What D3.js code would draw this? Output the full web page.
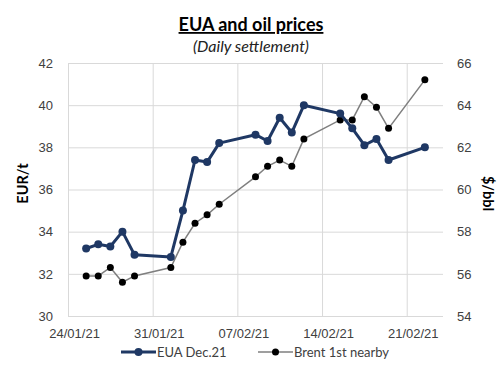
<!DOCTYPE html>
<html>
<head>
<meta charset="utf-8">
<script src="https://cdn.jsdelivr.net/npm/d3@7"></script>
<style>
  body { margin: 0; background: #fff; }
  svg { font-family: Lato, "Open Sans", sans-serif; }
  .grid line { stroke: #d9d9d9; stroke-width: 1; }
  .grid .domain { display: none; }
  .ticks .domain { display: none; }
  .ticks text { font-size: 13px; fill: #404040; }
</style>
</head>
<body>
<div id="chart"></div>
<script>
const FRAME_WIDTH = 503;
const FRAME_HEIGHT = 366;
const MARGINS = {left: 68, right: 60, top: 63, bottom: 50};

const VIS_WIDTH = FRAME_WIDTH - MARGINS.left - MARGINS.right;
const VIS_HEIGHT = FRAME_HEIGHT - MARGINS.top - MARGINS.bottom;

// data
const DATES = ["25/01/21", "26/01/21", "27/01/21", "28/01/21", "29/01/21",
               "01/02/21", "02/02/21", "03/02/21", "04/02/21", "05/02/21",
               "08/02/21", "09/02/21", "10/02/21", "11/02/21", "12/02/21",
               "15/02/21", "16/02/21", "17/02/21", "18/02/21", "19/02/21",
               "22/02/21"];
const EUA = [33.2, 33.4, 33.3, 34.0, 32.9,
             32.8, 35.0, 37.4, 37.3, 38.2,
             38.6, 38.3, 39.4, 38.7, 40.0,
             39.6, 38.9, 38.1, 38.4, 37.4,
             38.0];
const BRENT = [55.9, 55.9, 56.3, 55.6, 55.9,
               56.3, 57.5, 58.4, 58.8, 59.3,
               60.6, 61.1, 61.4, 61.1, 62.4,
               63.3, 63.3, 64.4, 63.9, 62.9,
               65.2];
const X_TICKS = ["24/01/21", "31/01/21", "07/02/21", "14/02/21", "21/02/21"];
const X_DOMAIN = ["24/01/21", "24/02/21"];
const LEFT_TICKS = [30, 32, 34, 36, 38, 40, 42];
const RIGHT_TICKS = [54, 56, 58, 60, 62, 64, 66];
const SERIES_NAMES = ["EUA Dec.21", "Brent 1st nearby"];

const parseDate = d3.utcParse("%d/%m/%y");
const fmtDate = d3.utcFormat("%d/%m/%y");

const FRAME = d3.select("#chart")
                .append("svg")
                  .attr("width", FRAME_WIDTH)
                  .attr("height", FRAME_HEIGHT);

const X_SCALE = d3.scaleUtc()
                  .domain(X_DOMAIN.map(parseDate))
                  .range([0, VIS_WIDTH]);

const Y_LEFT = d3.scaleLinear()
                 .domain([30, 42])
                 .range([VIS_HEIGHT, 0]);

const Y_RIGHT = d3.scaleLinear()
                  .domain([54, 66])
                  .range([VIS_HEIGHT, 0]);

// excel date axis puts each day in the middle of its slot
const xMid = (d) => X_SCALE(d3.utcHour.offset(d, 12));

const G = FRAME.append("g")
               .attr("transform", "translate(" + MARGINS.left + "," + MARGINS.top + ")");

// horizontal grid
G.append("g")
  .attr("class", "grid")
  .call(d3.axisLeft(Y_LEFT).tickValues(LEFT_TICKS).tickSize(-VIS_WIDTH).tickFormat(""));

// vertical grid
G.append("g")
  .attr("class", "grid")
  .attr("transform", "translate(0," + VIS_HEIGHT + ")")
  .call(d3.axisBottom(X_SCALE).tickValues(X_TICKS.map(parseDate)).tickSize(-VIS_HEIGHT).tickFormat(""));

// left axis labels
G.append("g")
  .attr("class", "ticks")
  .call(d3.axisLeft(Y_LEFT).tickValues(LEFT_TICKS).tickSize(0).tickPadding(15));

// right axis labels
G.append("g")
  .attr("class", "ticks")
  .attr("transform", "translate(" + VIS_WIDTH + ",0)")
  .call(d3.axisRight(Y_RIGHT).tickValues(RIGHT_TICKS).tickSize(0).tickPadding(14));

// x labels, shifted half a day like the points
G.append("g")
  .attr("class", "ticks")
  .attr("transform", "translate(" + (xMid(parseDate(X_TICKS[0])) - X_SCALE(parseDate(X_TICKS[0]))) + "," + VIS_HEIGHT + ")")
  .call(d3.axisBottom(X_SCALE).tickValues(X_TICKS.map(parseDate)).tickSize(0).tickPadding(13).tickFormat(fmtDate));

// axis titles
FRAME.append("text")
  .attr("transform", "translate(28," + (MARGINS.top + VIS_HEIGHT / 2 - 6) + ") rotate(-90)")
  .attr("text-anchor", "middle")
  .attr("font-size", "14.5px")
  .attr("font-weight", "bold")
  .attr("fill", "#000")
  .text("EUR/t");

FRAME.append("text")
  .attr("transform", "translate(483," + (MARGINS.top + VIS_HEIGHT / 2 + 4) + ") rotate(90)")
  .attr("text-anchor", "middle")
  .attr("font-size", "14.5px")
  .attr("font-weight", "bold")
  .attr("fill", "#000")
  .text("$/bbl");

// title
FRAME.append("text")
  .attr("x", 251)
  .attr("y", 31)
  .attr("text-anchor", "middle")
  .attr("font-size", "18px")
  .attr("font-weight", "bold")
  .attr("text-decoration", "underline")
  .attr("fill", "#000")
  .text("EUA and oil prices");

FRAME.append("text")
  .attr("x", 251)
  .attr("y", 52)
  .attr("text-anchor", "middle")
  .attr("font-size", "16px")
  .attr("font-style", "italic")
  .attr("fill", "#222")
  .text("(Daily settlement)");

const euaData = DATES.map((d, i) => ({date: parseDate(d), v: EUA[i]}));
const brentData = DATES.map((d, i) => ({date: parseDate(d), v: BRENT[i]}));

// brent (right axis)
G.append("path")
  .datum(brentData)
  .attr("fill", "none")
  .attr("stroke", "#7f7f7f")
  .attr("stroke-width", 1.5)
  .attr("d", d3.line().x((d) => xMid(d.date)).y((d) => Y_RIGHT(d.v)));

G.selectAll(".brent")
  .data(brentData)
  .enter()
  .append("circle")
    .attr("class", "brent")
    .attr("cx", (d) => xMid(d.date))
    .attr("cy", (d) => Y_RIGHT(d.v))
    .attr("r", 3.5)
    .attr("fill", "#000");

// eua (left axis)
G.append("path")
  .datum(euaData)
  .attr("fill", "none")
  .attr("stroke", "#1f3864")
  .attr("stroke-width", 3)
  .attr("stroke-linejoin", "round")
  .attr("d", d3.line().x((d) => xMid(d.date)).y((d) => Y_LEFT(d.v)));

G.selectAll(".eua")
  .data(euaData)
  .enter()
  .append("circle")
    .attr("class", "eua")
    .attr("cx", (d) => xMid(d.date))
    .attr("cy", (d) => Y_LEFT(d.v))
    .attr("r", 4)
    .attr("fill", "#1f3864");

// legend
const LEGEND = FRAME.append("g").attr("transform", "translate(0,352)");
const legendItems = [
  {name: SERIES_NAMES[0], x: 121, color: "#1f3864", width: 3, dot: "#1f3864", r: 4},
  {name: SERIES_NAMES[1], x: 258, color: "#7f7f7f", width: 1.5, dot: "#000", r: 3.5}
];
legendItems.forEach((it) => {
  LEGEND.append("line")
    .attr("x1", it.x).attr("x2", it.x + 35)
    .attr("y1", 0).attr("y2", 0)
    .attr("stroke", it.color)
    .attr("stroke-width", it.width);
  LEGEND.append("circle")
    .attr("cx", it.x + 17.5).attr("cy", 0)
    .attr("r", it.r)
    .attr("fill", it.dot);
  LEGEND.append("text")
    .attr("x", it.x + 36)
    .attr("y", 0)
    .attr("dy", "0.35em")
    .attr("font-size", "13px")
    .attr("fill", "#404040")
    .text(it.name);
});
</script>
</body>
</html>
